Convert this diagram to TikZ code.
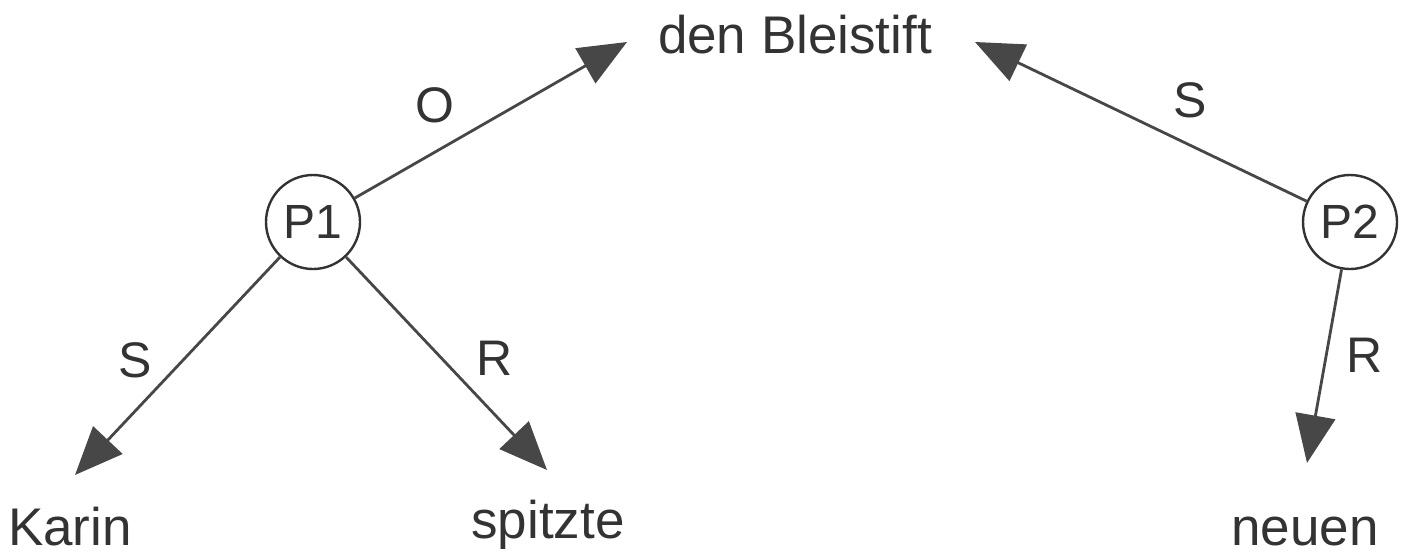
\documentclass[tikz,border=0pt]{standalone}
\usepackage{fontspec}
\setmainfont{Liberation Sans}
\usetikzlibrary{arrows.meta}
\definecolor{ink}{HTML}{333333}
\begin{document}
\begin{tikzpicture}[x=1pt,y=-1pt,
  word/.style={text=ink,font=\fontsize{53}{60}\selectfont,inner sep=0pt},
  lab/.style={text=ink,font=\fontsize{50}{60}\selectfont,inner sep=0pt},
  pnode/.style={circle,draw=ink,line width=2.4pt,minimum size=94pt,inner sep=0pt,
    text=ink,font=\fontsize{48}{56}\selectfont},
  rel/.style={draw=ink,line width=2.8pt,
    -{Triangle[length=48pt,width=40pt]},color=ink!90}]
  \useasboundingbox (0,0) rectangle (1403,557);

  % predicate nodes
  \node[pnode] (p1) at (313,222) {P1};
  \node[pnode] (p2) at (1350,222) {P2};

  % words
  \node[word,anchor=base] (bleistift) at (795,53) {den Bleistift};
  \node[word,anchor=base] (karin) at (70,545) {Karin};
  \node[word,anchor=base] (spitzte) at (548,538) {spitzte};
  \node[word,anchor=base] (neuen) at (1305,545) {neuen};

  % arrow tips
  \coordinate (tO) at (627,42);
  \coordinate (tS2) at (975,42);
  \coordinate (tK) at (75,475);
  \coordinate (tSp) at (547,470);
  \coordinate (tN) at (1307,463);

  % relations
  \draw[rel] (p1) -- (tO);
  \draw[rel] (p2) -- (tS2);
  \draw[rel] (p1) -- (tK);
  \draw[rel] (p1) -- (tSp);
  \draw[rel] (p2) -- (tN);

  % relation labels
  \node[lab] (lO) at (435,105) {O};
  \node[lab] (lS2) at (1190,100) {S};
  \node[lab] (lS1) at (135,360) {S};
  \node[lab] (lR1) at (495,358) {R};
  \node[lab] (lR2) at (1365,355) {R};
\end{tikzpicture}
\end{document}
